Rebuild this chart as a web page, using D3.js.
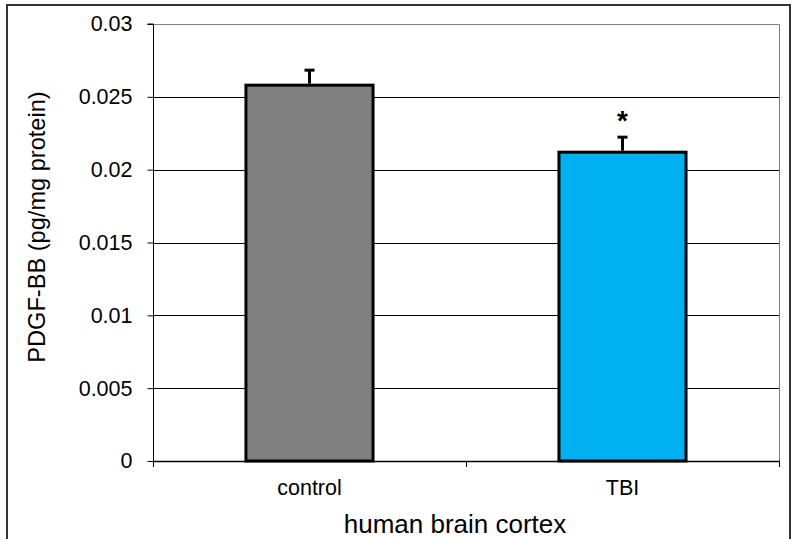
<!DOCTYPE html>
<html>
<head>
<meta charset="utf-8">
<script src="https://cdn.jsdelivr.net/npm/d3@7"></script>
<style>
  body { margin: 0; background: #fff; }
  svg { display: block; font-family: 'Liberation Sans', Arial, sans-serif; }
</style>
</head>
<body>
<div class="container"></div>
<script>
// Data
const categories = ['control', 'TBI'];
const values = [0.0258, 0.0212];
const errors = [0.0011, 0.0011];
const barColors = ['#808080', '#00b0f0'];
const yTicks = [0, 0.005, 0.01, 0.015, 0.02, 0.025, 0.03];
const yTickLabels = ['0', '0.005', '0.01', '0.015', '0.02', '0.025', '0.03'];
const significant = [false, true];

// Constants
const width = 793;
const height = 539;
const plot = { left: 153, right: 779, top: 24, bottom: 461 };

const svg = d3
  .select('.container')
  .append('svg')
  .attr('width', width)
  .attr('height', height);

// Outer frame
svg
  .append('rect')
  .attr('x', 7)
  .attr('y', 5)
  .attr('width', 783)
  .attr('height', 545)
  .attr('fill', 'none')
  .attr('stroke', '#333')
  .attr('stroke-width', 2);

// Scales
const y = d3.scaleLinear().domain([0, 0.03]).range([plot.bottom, plot.top]);
const xCat = d3
  .scaleBand()
  .domain(categories)
  .range([plot.left, plot.right])
  .padding(0);
const x = d3
  .scaleBand()
  .domain(categories)
  .range([plot.left, plot.right])
  .paddingInner(0.594)
  .paddingOuter(0.297);

// Gridlines
svg
  .append('g')
  .attr('class', 'grid')
  .selectAll('line')
  .data(yTicks.slice(1, -1))
  .enter()
  .append('line')
  .attr('x1', plot.left)
  .attr('x2', plot.right)
  .attr('y1', (d) => Math.round(y(d)) + 0.5)
  .attr('y2', (d) => Math.round(y(d)) + 0.5)
  .attr('stroke', '#000')
  .attr('stroke-width', 1);

// Plot area border (top and right)
svg
  .append('path')
  .attr('d', `M${plot.left},${plot.top + 0.5}H${plot.right + 0.5}V${plot.bottom}`)
  .attr('fill', 'none')
  .attr('stroke', '#808080')
  .attr('stroke-width', 1);

// Bars
svg
  .append('g')
  .attr('class', 'bars')
  .selectAll('rect')
  .data(values)
  .enter()
  .append('rect')
  .attr('x', (d, i) => x(categories[i]))
  .attr('y', (d) => y(d))
  .attr('width', x.bandwidth())
  .attr('height', (d) => y(0) - y(d))
  .attr('fill', (d, i) => barColors[i])
  .attr('stroke', '#000')
  .attr('stroke-width', 3);

// Error bars (plus direction)
const errG = svg.append('g').attr('class', 'errors');
values.forEach((v, i) => {
  const cx = x(categories[i]) + x.bandwidth() / 2;
  errG
    .append('line')
    .attr('x1', cx)
    .attr('x2', cx)
    .attr('y1', y(v) - 1.5)
    .attr('y2', y(v + errors[i]))
    .attr('stroke', '#000')
    .attr('stroke-width', 3);
  errG
    .append('line')
    .attr('x1', cx - 5)
    .attr('x2', cx + 5)
    .attr('y1', y(v + errors[i]) + 1)
    .attr('y2', y(v + errors[i]) + 1)
    .attr('stroke', '#000')
    .attr('stroke-width', 3);
});

// Significance marker
svg
  .append('g')
  .selectAll('text')
  .data(values)
  .enter()
  .filter((d, i) => significant[i])
  .append('text')
  .attr('x', (d, i) => x(categories[1]) + x.bandwidth() / 2)
  .attr('y', (d) => y(d + errors[1]) - 6)
  .attr('text-anchor', 'middle')
  .style('font-size', '28px')
  .style('font-weight', 'bold')
  .text('*');

// Y axis
const yAxis = d3
  .axisLeft(y)
  .tickValues(yTicks)
  .tickFormat((d, i) => yTickLabels[i])
  .tickSize(6)
  .tickPadding(15);

svg
  .append('g')
  .attr('transform', `translate(${plot.left + 0.5},0)`)
  .call(yAxis)
  .call((g) => g.select('.domain').attr('d', `M-6,${plot.top}H0V${plot.bottom + 6}`))
  .call((g) => g.selectAll('text').style('font-size', '21.5px').attr('fill', '#000'))
  .call((g) => g.selectAll('line').attr('stroke', '#000'));

// X axis line and boundary ticks
const xAxisG = svg.append('g').attr('class', 'x-axis');
xAxisG
  .append('line')
  .attr('x1', plot.left)
  .attr('x2', plot.right + 1)
  .attr('y1', plot.bottom + 0.5)
  .attr('y2', plot.bottom + 0.5)
  .attr('stroke', '#000')
  .attr('stroke-width', 1.5);
xAxisG
  .selectAll('.tick')
  .data(categories.map((c) => xCat(c)).concat([plot.right]))
  .enter()
  .append('line')
  .attr('x1', (d) => Math.round(d) + 0.5)
  .attr('x2', (d) => Math.round(d) + 0.5)
  .attr('y1', plot.bottom)
  .attr('y2', plot.bottom + 6)
  .attr('stroke', '#000');
xAxisG
  .selectAll('text')
  .data(categories)
  .enter()
  .append('text')
  .attr('x', (d) => x(d) + x.bandwidth() / 2)
  .attr('y', 495)
  .attr('text-anchor', 'middle')
  .style('font-size', '21.5px')
  .text((d) => d);

// Axis titles
svg
  .append('text')
  .attr('x', 455)
  .attr('y', 533)
  .attr('text-anchor', 'middle')
  .style('font-size', '26px')
  .text('human brain cortex');

svg
  .append('text')
  .attr('transform', 'translate(45,227) rotate(-90)')
  .attr('text-anchor', 'middle')
  .style('font-size', '23.6px')
  .text('PDGF-BB (pg/mg protein)');
</script>
</body>
</html>
